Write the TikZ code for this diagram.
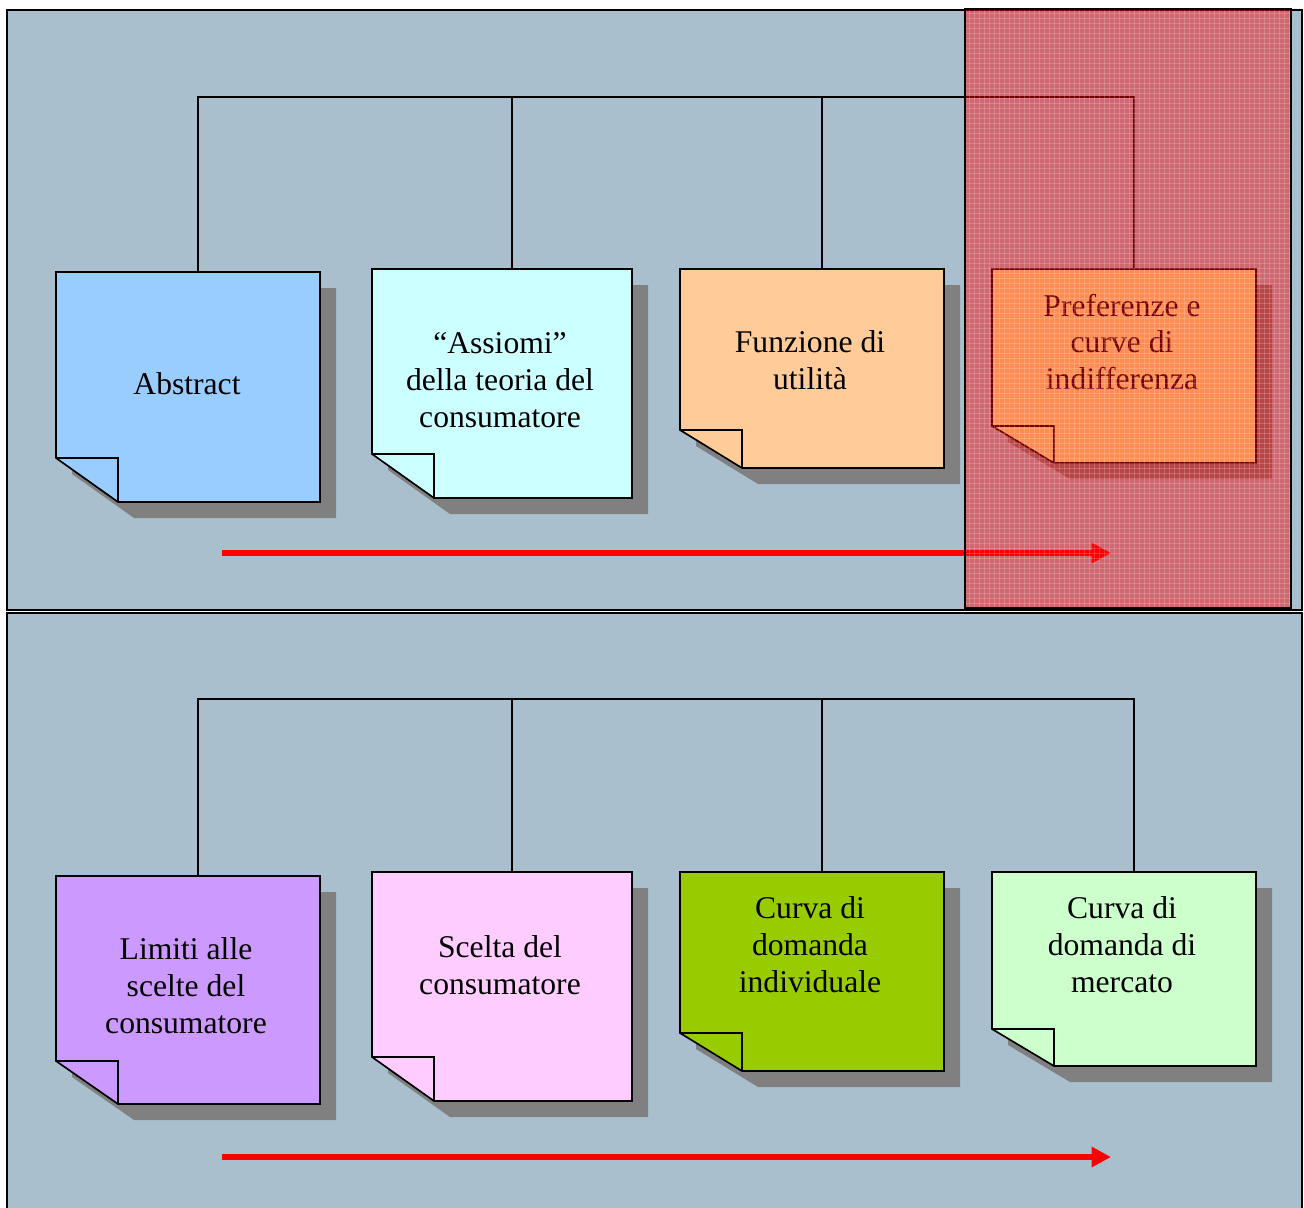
\documentclass[tikz,border=0pt]{standalone}
\usepackage{fontspec}
\setmainfont{Liberation Serif}
\usetikzlibrary{arrows.meta, fit}

\definecolor{panelbg}{RGB}{170,191,206}
\definecolor{shadowgray}{RGB}{128,128,128}
\definecolor{abstractcol}{RGB}{153,204,255}
\definecolor{assiomicol}{RGB}{204,255,255}
\definecolor{funzionecol}{RGB}{255,204,153}
\definecolor{prefcol}{RGB}{255,255,150}
\definecolor{limiticol}{RGB}{204,153,255}
\definecolor{sceltacol}{RGB}{255,204,255}
\definecolor{curvacol}{RGB}{153,204,0}
\definecolor{mercatocol}{RGB}{204,255,204}

% note with folded corner and drop shadow: node, colour, fold height
\newcommand{\drawnote}[3]{%
  \fill[shadowgray] ([shift={(16,16)}]#1.north west) -- ([shift={(16,16)}]#1.north east)
    -- ([shift={(16,16)}]#1.south east) -- ([shift={(78,16)}]#1.south west)
    -- ([shift={(16,16-#3)}]#1.south west) -- cycle;
  \filldraw[fill=#2, line width=0.95pt] (#1.north west) -- (#1.north east) -- (#1.south east)
    -- ([shift={(62,0)}]#1.south west) -- ([shift={(0,-#3)}]#1.south west) -- cycle;
  \draw[line width=0.95pt] ([shift={(0,-#3)}]#1.south west) -- ([shift={(62,-#3)}]#1.south west)
    -- ([shift={(62,0)}]#1.south west);
}

\begin{document}
\begin{tikzpicture}[
  x=0.02cm, y=-0.02cm,
  note/.style={inner sep=0pt, outer sep=0pt},
  notetext/.style={align=center, inner sep=0pt, font=\fontsize{18}{21}\selectfont},
  panel/.style={draw, line width=1.3pt, fill=panelbg},
  link/.style={line width=1.15pt, line join=miter},
  flow/.style={red, line width=3.2pt, -{Triangle[length=11pt, width=11pt]}},
  focus/.style={fill=red, fill opacity=0.45, inner sep=0pt, outer sep=0pt}
]
\useasboundingbox[fill=white] (0,0) rectangle (1304,1207);

% --- Panels ---
\draw[panel] (7,10) rectangle (1302,610);
\draw[panel] (7,613) rectangle (1302,1215);

% --- Note frames, top row ---
\node[note, fit={(56,272) (320,502)}] (abstract) {};
\node[note, fit={(372,269) (632,498)}] (assiomi) {};
\node[note, fit={(680,269) (944,468)}] (funzione) {};
\node[note, fit={(992,269) (1256,463)}] (pref) {};

% --- Note frames, bottom row ---
\node[note, fit={(56,876) (320,1104)}] (limiti) {};
\node[note, fit={(372,872) (632,1101)}] (scelta) {};
\node[note, fit={(680,872) (944,1071)}] (curva) {};
\node[note, fit={(992,872) (1256,1066)}] (mercato) {};

% --- Connectors ---
\coordinate (busT) at (0,97);
\coordinate (busB) at (0,699);
\foreach \n in {abstract,assiomi,funzione,pref,limiti,scelta,curva,mercato}
  \coordinate (\n-in) at ([shift={(10,0)}]\n.north);

\draw[link] (abstract-in) -- (abstract-in |- busT) -- (pref-in |- busT) -- (pref-in);
\draw[link] (assiomi-in) -- (assiomi-in |- busT);
\draw[link] (funzione-in) -- (funzione-in |- busT);

\draw[link] (limiti-in) -- (limiti-in |- busB) -- (mercato-in |- busB) -- (mercato-in);
\draw[link] (scelta-in) -- (scelta-in |- busB);
\draw[link] (curva-in) -- (curva-in |- busB);

% --- Notes ---
\drawnote{abstract}{abstractcol}{44}
\drawnote{assiomi}{assiomicol}{44}
\drawnote{funzione}{funzionecol}{38}
\drawnote{pref}{prefcol}{37}
\drawnote{limiti}{limiticol}{43}
\drawnote{scelta}{sceltacol}{44}
\drawnote{curva}{curvacol}{38}
\drawnote{mercato}{mercatocol}{37}

% --- Texts ---
\node[notetext] (abstract-t) at (187,384) {Abstract};
\node[notetext] (assiomi-t) at (500,380) {“Assiomi”\\della teoria del\\consumatore};
\node[notetext] (funzione-t) at (810,360) {Funzione di\\utilità};
\node[notetext] (pref-t) at (1122,342) {Preferenze e\\curve di\\indifferenza};
\node[notetext] (limiti-t) at (186,986) {Limiti alle\\scelte del\\consumatore};
\node[notetext] (scelta-t) at (500,965) {Scelta del\\consumatore};
\node[notetext] (curva-t) at (810,945) {Curva di\\domanda\\individuale};
\node[notetext] (mercato-t) at (1122,945) {Curva di\\domanda di\\mercato};

% --- Progress arrows ---
\coordinate (flowTs) at (222,553);
\coordinate (flowTe) at (1111,553);
\coordinate (flowBs) at (222,1157);
\coordinate (flowBe) at (1111,1157);
\draw[flow] (flowTs) -- (flowTe);
\draw[flow] (flowBs) -- (flowBe);

% --- Highlight on current step ---
\node[focus, fit={(965,9) (1291,608)}] (current) {};
\foreach \x in {969,974,...,1289}
  \draw[white, opacity=0.18, line width=0.5pt] (\x,9) -- (\x,608);
\foreach \y in {13,18,...,604}
  \draw[white, opacity=0.18, line width=0.5pt] (965,\y) -- (1291,\y);
\draw[line width=1.6pt] (current.north west) rectangle (current.south east);

\end{tikzpicture}
\end{document}
